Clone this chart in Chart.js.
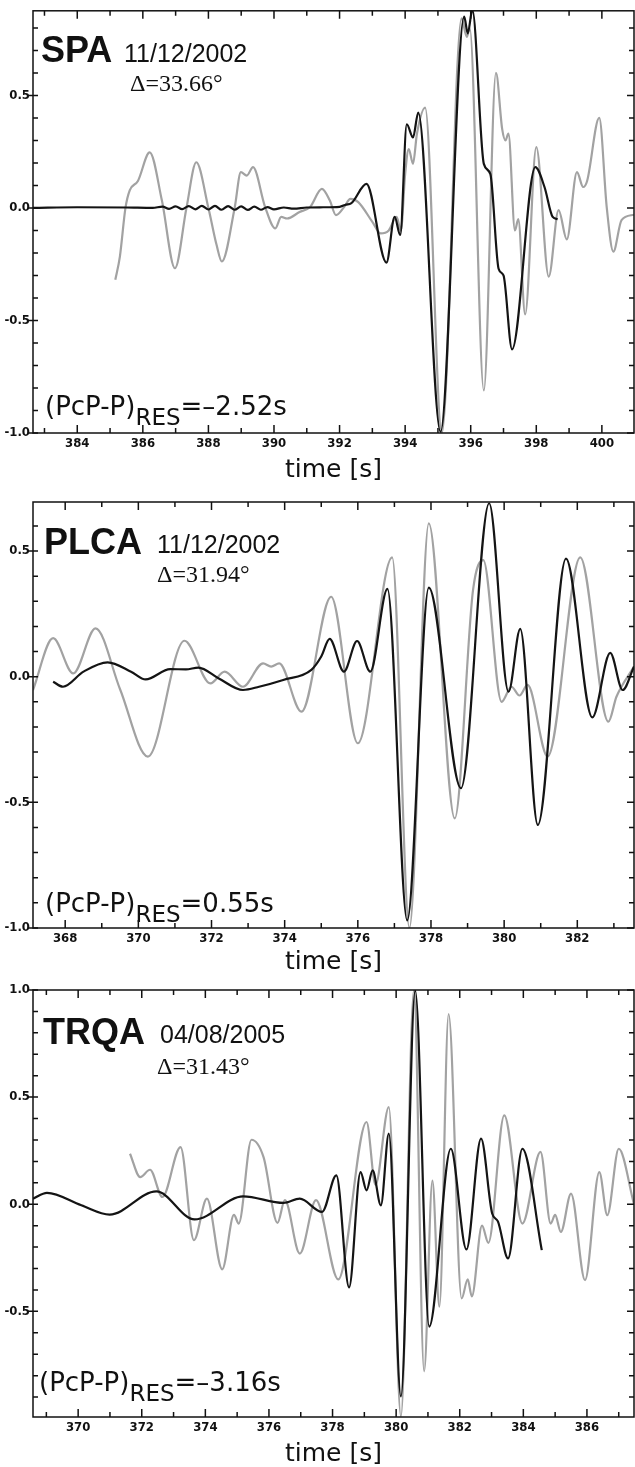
<!DOCTYPE html>
<html>
<head>
<meta charset="utf-8">
<script src="https://cdn.jsdelivr.net/npm/chart.js@4/dist/chart.umd.min.js"></script>
<style>
  body { margin: 0; background: #fff; width: 635px; height: 1467px; position: relative; overflow: hidden; }
  canvas { position: absolute; left: 0; }
  .lbl { position: absolute; white-space: nowrap; line-height: 1; color: #111; }
  .stn { font: bold 36px "Liberation Sans", Arial, sans-serif; }
  .date { font: 25px "Liberation Sans", Arial, sans-serif; }
  .dist { font: 24px "Liberation Serif", "Times New Roman", serif; }
  .res { font: 26px "DejaVu Sans", sans-serif; }
  .res .sub { font-size: 23px; vertical-align: -10px; }
</style>
</head>
<body>
<canvas id="spa" width="635" height="483" style="top:0px;width:635px;height:483px"></canvas>
<canvas id="plca" width="635" height="492" style="top:483px;width:635px;height:492px"></canvas>
<canvas id="trqa" width="635" height="492" style="top:975px;width:635px;height:492px"></canvas>

<div class="lbl stn" style="left:41px;top:29px">SPA</div>
<div class="lbl date" style="left:124px;top:39px">11/12/2002</div>
<div class="lbl dist" style="left:130px;top:70px">&Delta;=33.66&deg;</div>
<div class="lbl res" style="left:45px;top:391px">(PcP-P)<span class="sub">RES</span>=&ndash;2.52s</div>

<div class="lbl stn" style="left:44px;top:521px">PLCA</div>
<div class="lbl date" style="left:157px;top:530px">11/12/2002</div>
<div class="lbl dist" style="left:157px;top:561px">&Delta;=31.94&deg;</div>
<div class="lbl res" style="left:45px;top:888px">(PcP-P)<span class="sub">RES</span>=0.55s</div>

<div class="lbl stn" style="left:43px;top:1011px">TRQA</div>
<div class="lbl date" style="left:160px;top:1020px">04/08/2005</div>
<div class="lbl dist" style="left:157px;top:1053px">&Delta;=31.43&deg;</div>
<div class="lbl res" style="left:39px;top:1367px">(PcP-P)<span class="sub">RES</span>=&ndash;3.16s</div>

<script>
// SPA 11/12/2002
const spaBlackT = [382.65, 384.0, 385.5, 386.3, 386.6, 386.8, 387.0, 387.2, 387.4, 387.6, 387.8, 388.0, 388.2, 388.4, 388.6, 388.8, 389.0, 389.2, 389.4, 389.6, 389.8, 390.0, 390.3, 390.6, 391.0, 391.5, 392.0, 392.2, 392.35, 392.82, 393.43, 393.68, 393.85, 394.05, 394.24, 394.4, 395.08, 395.8, 395.91, 396.05, 396.4, 396.6, 396.85, 397.0, 397.26, 397.97, 398.25, 398.5, 398.65];
const spaBlackV = [0.0, 0.003, 0.002, 0.0, 0.006, -0.004, 0.007, -0.005, 0.008, -0.006, 0.009, -0.007, 0.009, -0.008, 0.008, -0.008, 0.007, -0.009, 0.006, -0.008, 0.004, -0.006, 0.002, -0.003, 0.002, 0.003, 0.005, 0.015, 0.02, 0.107, -0.243, -0.04, -0.12, 0.372, 0.313, 0.424, -0.995, 0.85, 0.776, 0.88, 0.196, 0.15, -0.27, -0.3, -0.628, 0.181, 0.093, -0.04, -0.05];
const spaGrayT = [385.16, 385.3, 385.47, 385.6, 385.85, 386.21, 386.58, 386.98, 387.33, 387.63, 388.0, 388.25, 388.41, 388.8, 388.99, 389.17, 389.36, 389.73, 390.04, 390.22, 390.4, 390.78, 391.1, 391.46, 391.7, 391.89, 392.14, 392.33, 392.57, 393.0, 393.25, 393.5, 393.74, 393.87, 394.0, 394.11, 394.24, 394.36, 394.61, 395.12, 395.72, 395.88, 395.97, 396.4, 396.77, 396.96, 397.06, 397.15, 397.35, 397.45, 397.66, 398.0, 398.38, 398.68, 398.93, 399.24, 399.43, 399.55, 399.92, 400.15, 400.35, 400.6, 400.98];
const spaGrayV = [-0.319, -0.216, 0.0, 0.078, 0.12, 0.247, 0.034, -0.268, 0.0, 0.203, 0.0, -0.165, -0.238, 0.0, 0.159, 0.144, 0.181, 0.004, -0.091, -0.04, -0.047, -0.018, 0.004, 0.085, 0.034, -0.032, 0.004, 0.04, 0.026, -0.062, -0.113, -0.1, -0.04, -0.1, 0.15, 0.262, 0.196, 0.33, 0.446, -1.0, 0.843, 0.76, 0.8, -0.811, 0.6, 0.35, 0.3, 0.33, -0.1, -0.05, -0.473, 0.27, -0.305, -0.01, -0.14, 0.159, 0.093, 0.12, 0.4, 0.0, -0.194, -0.054, -0.03];
const spaXTicks = [384, 386, 388, 390, 392, 394, 396, 398, 400];
const spaYTicks = [-1.0, -0.5, 0.0, 0.5];

// PLCA 11/12/2002
const plcaBlackT = [367.67, 367.94, 368.5, 369.16, 369.8, 370.2, 370.87, 371.3, 371.64, 372.2, 372.86, 373.3, 373.96, 374.73, 375.0, 375.23, 375.62, 375.98, 376.34, 376.81, 377.35, 377.94, 378.82, 379.59, 380.12, 380.44, 380.92, 381.69, 382.41, 382.9, 383.24, 383.55];
const plcaBlackV = [-0.02, -0.04, 0.02, 0.057, 0.02, -0.011, 0.03, 0.029, 0.036, -0.007, -0.053, -0.04, -0.013, 0.027, 0.08, 0.15, 0.02, 0.142, 0.02, 0.349, -0.97, 0.354, -0.444, 0.69, -0.06, 0.19, -0.59, 0.47, -0.162, 0.095, -0.053, 0.04];
const plcaGrayT = [367.12, 367.67, 368.22, 368.83, 369.5, 370.26, 371.26, 371.97, 372.36, 372.86, 373.41, 373.63, 373.85, 374.46, 375.27, 376.0, 376.94, 377.41, 377.94, 378.65, 379.15, 379.43, 379.93, 380.2, 380.42, 380.64, 381.19, 382.08, 382.85, 383.07, 383.55];
const plcaGrayV = [-0.053, 0.153, 0.013, 0.192, -0.05, -0.318, 0.143, -0.027, 0.02, -0.04, 0.053, 0.04, 0.053, -0.139, 0.318, -0.265, 0.475, -1.0, 0.61, -0.564, 0.345, 0.464, -0.1, -0.04, -0.075, -0.033, -0.318, 0.475, -0.179, -0.08, 0.04];
const plcaXTicks = [368, 370, 372, 374, 376, 378, 380, 382];
const plcaYTicks = [-1.0, -0.5, 0.0, 0.5];

// TRQA 04/08/2005
const trqaBlackT = [368.58, 369.02, 370.1, 370.99, 372.46, 373.66, 375.19, 376.46, 376.97, 377.67, 378.12, 378.52, 378.88, 379.07, 379.26, 379.52, 379.77, 380.15, 380.6, 381.04, 381.72, 382.21, 382.67, 383.02, 383.2, 383.52, 383.97, 384.58];
const trqaBlackV = [0.026, 0.053, -0.005, -0.048, 0.06, -0.071, 0.037, 0.006, 0.026, -0.036, 0.135, -0.388, 0.15, 0.065, 0.158, -0.005, 0.33, -0.897, 0.997, -0.571, 0.259, -0.211, 0.306, -0.043, -0.08, -0.253, 0.259, -0.214];
const trqaGrayT = [371.63, 371.95, 372.26, 372.65, 373.22, 373.64, 374.05, 374.53, 374.9, 375.05, 375.45, 375.83, 376.27, 376.5, 376.97, 377.48, 378.18, 379.07, 379.35, 379.77, 380.15, 380.56, 380.88, 381.14, 381.36, 381.65, 382.06, 382.25, 382.38, 382.7, 382.9, 383.4, 383.97, 384.54, 384.86, 385.0, 385.18, 385.5, 385.94, 386.39, 386.64, 387.0, 387.48];
const trqaGrayV = [0.236, 0.127, 0.161, 0.034, 0.267, -0.168, 0.026, -0.304, -0.05, -0.09, 0.301, 0.22, -0.087, 0.019, -0.23, 0.019, -0.351, 0.384, 0.09, 0.453, -0.99, 1.0, -0.78, 0.11, -0.478, 0.888, -0.44, -0.35, -0.43, -0.1, -0.18, 0.415, -0.09, 0.244, -0.09, -0.05, -0.129, 0.05, -0.354, 0.15, -0.051, 0.259, 0.0];
const trqaXTicks = [370, 372, 374, 376, 378, 380, 382, 384, 386];
const trqaYTicks = [-0.5, 0.0, 0.5, 1.0];

const tickFont = { family: "'Liberation Sans Narrow', 'DejaVu Sans Condensed', 'DejaVu Sans', sans-serif", size: 13, weight: "bold" };

function pts(ts, vs) {
  return ts.map((t, i) => ({ x: t, y: vs[i] }));
}

// box round the plot with small inside ticks on all four sides
const frame = {
  id: "frame",
  afterDraw(chart) {
    const { ctx, chartArea: a, scales: { x, y } } = chart;
    ctx.save();
    ctx.strokeStyle = "#111";
    ctx.lineWidth = 1.5;
    ctx.strokeRect(a.left, a.top, a.right - a.left, a.bottom - a.top);
    ctx.beginPath();
    for (let t = Math.ceil(x.min); t <= x.max; t++) {
      const px = x.getPixelForValue(t);
      const len = t % 2 === 0 ? 8 : 5;
      ctx.moveTo(px, a.bottom); ctx.lineTo(px, a.bottom - len);
      ctx.moveTo(px, a.top); ctx.lineTo(px, a.top + len);
    }
    for (let k = Math.ceil(y.min * 10 - 1e-6); k <= y.max * 10 + 1e-6; k++) {
      const py = y.getPixelForValue(k / 10);
      const major = k % 5 === 0;
      ctx.moveTo(a.left - (major ? 5 : 0), py); ctx.lineTo(a.left + 5, py);
      ctx.moveTo(a.right, py); ctx.lineTo(a.right - (major ? 7 : 5), py);
    }
    ctx.stroke();
    ctx.restore();
  },
};

function makePanel(id, black, gray, xMin, xMax, yMin, yMax, xTicks, yTicks, padTop, xHeight) {
  return new Chart(document.getElementById(id), {
    type: "line",
    data: {
      datasets: [
        { data: black, borderColor: "#141414", borderWidth: 2.2 },
        { data: gray, borderColor: "#a2a2a2", borderWidth: 2.2 },
      ],
    },
    options: {
      responsive: false,
      animation: false,
      datasets: { line: { pointRadius: 0, fill: false, cubicInterpolationMode: "monotone" } },
      layout: { padding: { top: padTop, right: 1, left: 0, bottom: 0 } },
      plugins: { legend: { display: false }, tooltip: { enabled: false } },
      scales: {
        x: {
          type: "linear",
          min: xMin,
          max: xMax,
          grid: { display: false, drawTicks: false },
          border: { display: false },
          afterBuildTicks: (s) => { s.ticks = xTicks.map((v) => ({ value: v })); },
          afterFit: (s) => { s.height = xHeight; },
          ticks: { font: tickFont, color: "#111", padding: 3, maxRotation: 0, autoSkip: false, callback: (v) => v.toFixed(0) },
          title: {
            display: true,
            text: "time [s]",
            color: "#111",
            font: { family: "'DejaVu Sans', sans-serif", size: 25, lineHeight: 1 },
            padding: { top: 0, bottom: 0 },
          },
        },
        y: {
          min: yMin,
          max: yMax,
          grid: { display: false, drawTicks: false },
          border: { display: false },
          afterBuildTicks: (s) => { s.ticks = yTicks.map((v) => ({ value: v })); },
          afterFit: (s) => { s.width = 33; },
          ticks: { font: tickFont, color: "#111", padding: 3, autoSkip: false, callback: (v) => v.toFixed(1) },
        },
      },
    },
    plugins: [frame],
  });
}

makePanel("spa", pts(spaBlackT, spaBlackV), pts(spaGrayT, spaGrayV), 382.65, 400.98, -1.0, 0.876, spaXTicks, spaYTicks, 9, 50);
makePanel("plca", pts(plcaBlackT, plcaBlackV), pts(plcaGrayT, plcaGrayV), 367.12, 383.55, -1.0, 0.695, plcaXTicks, plcaYTicks, 19, 47);
makePanel("trqa", pts(trqaBlackT, trqaBlackV), pts(trqaGrayT, trqaGrayV), 368.58, 387.48, -0.993, 1.0, trqaXTicks, trqaYTicks, 15, 50);
</script>
</body>
</html>
